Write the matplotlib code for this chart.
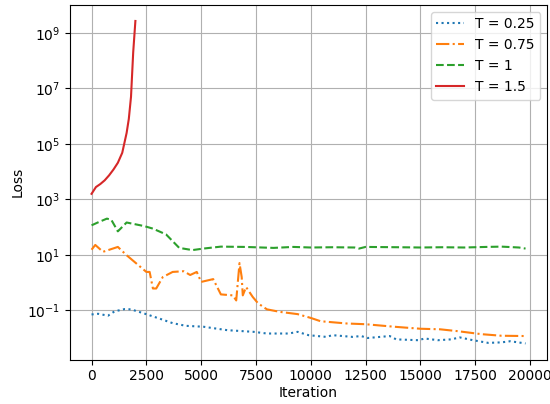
import numpy as np
import matplotlib
matplotlib.use('Agg')
import matplotlib.pyplot as plt

# loss curves
iter_025 = [0, 300, 750, 1050, 1500, 1800, 2400, 3100, 3700, 4300, 5100, 6200, 7400, 8000,
            9000, 9400, 9900, 10700, 11000, 11900, 12300, 12600, 13600, 13900, 14900, 15200,
            15800, 16400, 16800, 17400, 18100, 18700, 19100, 19800]
loss_025 = [0.072, 0.076, 0.065, 0.093, 0.112, 0.110, 0.078, 0.051, 0.035, 0.028, 0.026, 0.0195,
            0.017, 0.0148, 0.0148, 0.017, 0.0129, 0.0112, 0.0129, 0.0112, 0.012, 0.0102, 0.012,
            0.0091, 0.0085, 0.0098, 0.0085, 0.0091, 0.0107, 0.0085, 0.0068, 0.0071, 0.0078, 0.0065]

iter_075 = [0, 170, 520, 1200, 1600, 2050, 2500, 2650, 2800, 2950, 3250, 3700, 4200, 4500, 4800,
            5000, 5550, 5900, 6450, 6600, 6750, 6850, 6900, 7050, 7350, 7600, 8000, 8600, 9400,
            10000, 10450, 11650, 12500, 13800, 15000, 15900, 16700, 17800, 18700, 19800]
loss_075 = [15.5, 23, 13, 19.5, 9.8, 4.9, 2.45, 2.45, 0.62, 0.62, 1.6, 2.45, 2.6, 1.9, 2.45,
            1.07, 1.35, 0.38, 0.35, 0.23, 5.1, 1.6, 0.35, 0.7, 0.31, 0.18, 0.11, 0.089, 0.074,
            0.054, 0.041, 0.034, 0.032, 0.026, 0.022, 0.021, 0.018, 0.014, 0.0123, 0.012]

iter_1 = [0, 300, 700, 900, 1200, 1600, 2400, 2800, 3400, 4000, 4600, 5100, 5900, 7000, 8300,
          9200, 10000, 11000, 12000, 12200, 12500, 14000, 15000, 16000, 17000, 18000, 18700,
          19500, 19800]
loss_1 = [117, 150, 204, 186, 71, 148, 110, 89, 55, 18, 15, 17, 20, 19.5, 18, 19.5, 18.6, 19,
          18.6, 17, 19.5, 19, 18.6, 19, 18.6, 19.5, 20, 18.6, 17]

iter_15 = [0, 200, 400, 600, 800, 1000, 1200, 1400, 1600, 1700, 1800, 1900, 2000]
loss_15 = [1.6e3, 2.8e3, 3.6e3, 4.9e3, 7.4e3, 1.2e4, 2.1e4, 4.8e4, 2.5e5, 8e5, 5e6, 2.0e8, 2.7e9]

fig = plt.figure(figsize=(5.5, 4.04), dpi=100)
ax = fig.add_subplot(111)
fig.subplots_adjust(left=0.127, right=0.995, bottom=0.11, top=0.988)

ax.plot(iter_025, loss_025, linestyle=':', color='C0', label='T = 0.25')
ax.plot(iter_075, loss_075, linestyle='-.', color='C1', label='T = 0.75')
ax.plot(iter_1, loss_1, linestyle='--', color='C2', label='T = 1')
ax.plot(iter_15, loss_15, linestyle='-', color='C3', label='T = 1.5')

ax.set_yscale('log')
ax.set_xlabel('Iteration', labelpad=2)
ax.set_ylabel('Loss', labelpad=2)
ax.grid(True)
ax.legend(loc='upper right')

fig.savefig('out.png', dpi=100)
